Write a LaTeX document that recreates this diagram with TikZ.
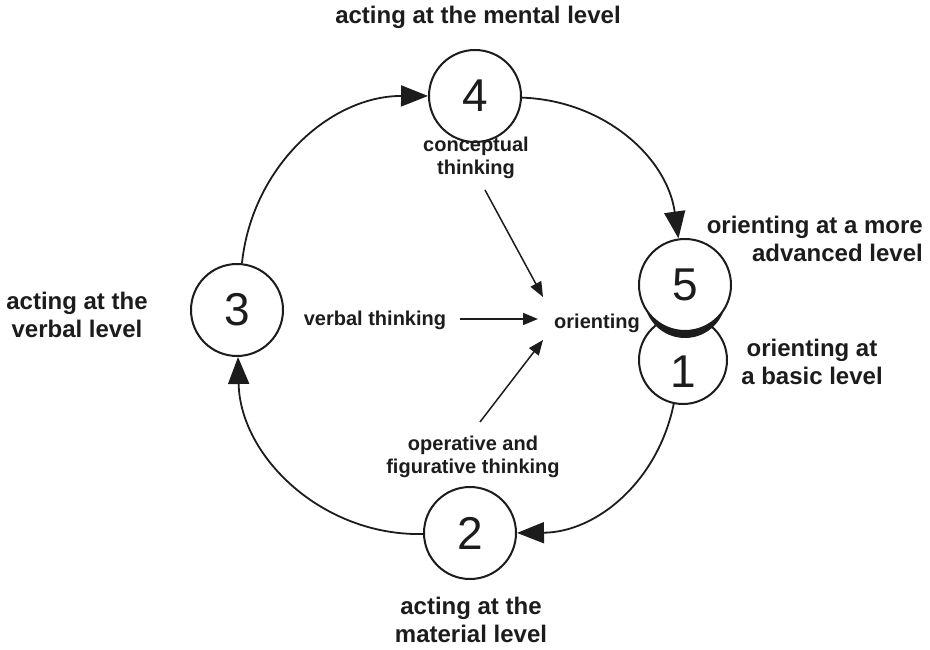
\documentclass[tikz,border=0pt]{standalone}
\usepackage{fontspec}
\setmainfont{Liberation Sans}
\usetikzlibrary{arrows.meta}
\definecolor{ink}{RGB}{28,28,28}
\begin{document}
\begin{tikzpicture}[x=1pt,y=1pt,
  stage/.style={circle,draw=ink,line width=2pt,fill=white,minimum size=92pt,inner sep=0pt,font=\fontsize{46}{46}\selectfont,text=ink},
  biglab/.style={font=\bfseries\fontsize{24}{28}\selectfont,text=ink,align=center,inner sep=0pt},
  smalllab/.style={font=\bfseries\fontsize{20}{23}\selectfont,text=ink,align=center,inner sep=0pt},
  cyc/.style={draw=ink,line width=1.8pt,-{Triangle[length=27pt,width=21pt]}},
  inarrow/.style={draw=ink,line width=1.5pt,-{Triangle[length=15pt,width=12pt]}}]
\useasboundingbox (0,0) rectangle (930,649);

% stage circles
\node[stage,minimum size=88pt] (c1) at (683,289) {\raisebox{-28pt}[0pt][0pt]{1}};
\fill[ink] (685,352) circle (41pt);
\node[stage] (c5) at (685,364) {5};
\node[stage] (c4) at (475,553) {4};
\node[stage] (c3) at (237,339) {3};
\node[stage] (c2) at (470,116) {2};

% level labels
\node[biglab] (lmental) at (478,632) {acting at the mental level};
\node[biglab,align=right,anchor=east] (ladv) at (923,410) {orienting at a more\\advanced level};
\node[biglab] (lbasic) at (812,287) {orienting at\\a basic level};
\node[biglab] (lverbal) at (77,334) {acting at the\\verbal level};
\node[biglab] (lmaterial) at (471,29) {acting at the\\material level};

% thinking labels
\node[smalllab] (concept) at (476,491) {conceptual\\thinking};
\node[smalllab] (verbth) at (375,329) {verbal thinking};
\node[smalllab] (orient) at (597,326) {orienting};
\node[smalllab] (operat) at (473,192) {operative and\\figurative thinking};

% cycle
\draw[cyc] (c4) to[bend left=40] (c5);
\draw[cyc] (c1) to[bend left=39] (c2);
\draw[cyc] (c2) to[bend left=45] (c3);
\draw[cyc] (c3) to[bend left=42] (c4);

% inner arrows
\coordinate (ca) at (485,459);
\coordinate (cb) at (543,352);
\coordinate (va) at (460,330);
\coordinate (vb) at (538,330);
\coordinate (oa) at (480,227);
\coordinate (ob) at (543,309);
\draw[inarrow] (ca) -- (cb);
\draw[inarrow] (va) -- (vb);
\draw[inarrow] (oa) -- (ob);
\end{tikzpicture}
\end{document}
